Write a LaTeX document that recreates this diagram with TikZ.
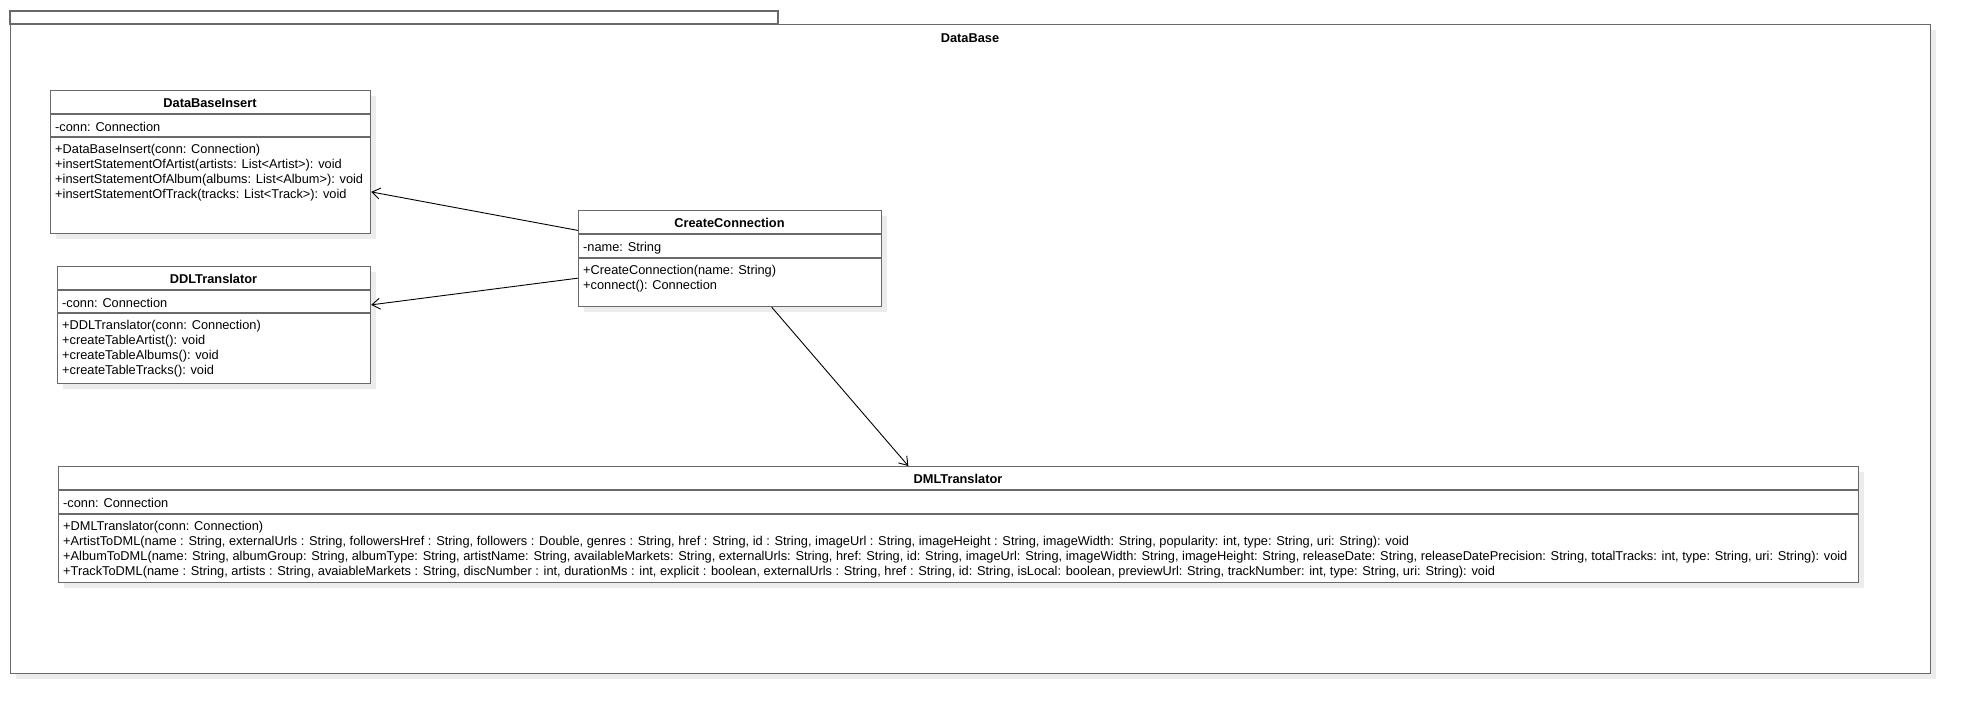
\documentclass[tikz,border=0pt]{standalone}
\usepackage{fontspec}
\setmainfont{Liberation Sans}
\usetikzlibrary{arrows.meta}
\definecolor{boxgray}{RGB}{105,105,105}
\definecolor{shadowgray}{RGB}{236,236,236}
\tikzset{
  classbox/.style={draw=boxgray, line width=1.2pt, fill=white, inner sep=0pt, anchor=north west},
  shadowbox/.style={fill=shadowgray},
  txt/.style={font=\fontsize{12.8}{15}\selectfont, inner sep=0pt, anchor=base west},
  hdr/.style={font=\fontsize{12.8}{15}\selectfont\bfseries, inner sep=0pt, anchor=base},
  divline/.style={draw=boxgray, line width=1.2pt},
  assoc/.style={draw=black, line width=0.9pt, -{Straight Barb[length=8pt,width=11pt]}},
}
\begin{document}
\begin{tikzpicture}[x=1pt,y=-1pt]
\useasboundingbox (0,0) rectangle (1970,713);
% package frame
\fill[shadowgray] (16,30) rectangle (1936,679);
\draw[divline] (10,11) rectangle (778,24);
\node[classbox, minimum width=1920pt, minimum height=649pt] (pkg) at (10,24) {};
\node[hdr] (pkgname) at (970,42.5) {DataBase};

% shadows
\fill[shadowgray] (56,96) rectangle (376,239);
\fill[shadowgray] (63,272) rectangle (376,389);
\fill[shadowgray] (584,216) rectangle (887,312);
\fill[shadowgray] (64,472) rectangle (1864,588);

% DataBaseInsert
\node[classbox, minimum width=320pt, minimum height=143pt] (dbi) at (50,90) {};
\draw[divline] (50,114) -- (370,114);
\draw[divline] (50,137) -- (370,137);
\node[hdr] (dbi-n) at (210,107.5) {DataBaseInsert};
\node[txt] (dbi-a) at (55,131) {-conn: Connection};
\node[txt] (dbi-m1) at (55,153) {+DataBaseInsert(conn: Connection)};
\node[txt] (dbi-m2) at (55,168) {+insertStatementOfArtist(artists: List<Artist>): void};
\node[txt] (dbi-m3) at (55,183) {+insertStatementOfAlbum(albums: List<Album>): void};
\node[txt] (dbi-m4) at (55,198) {+insertStatementOfTrack(tracks: List<Track>): void};

% DDLTranslator
\node[classbox, minimum width=313pt, minimum height=117pt] (ddl) at (57,266) {};
\draw[divline] (57,290) -- (370,290);
\draw[divline] (57,313) -- (370,313);
\node[hdr] (ddl-n) at (213.5,283.5) {DDLTranslator};
\node[txt] (ddl-a) at (62,307) {-conn: Connection};
\node[txt] (ddl-m1) at (62,329) {+DDLTranslator(conn: Connection)};
\node[txt] (ddl-m2) at (62,344) {+createTableArtist(): void};
\node[txt] (ddl-m3) at (62,359) {+createTableAlbums(): void};
\node[txt] (ddl-m4) at (62,374) {+createTableTracks(): void};

% CreateConnection
\node[classbox, minimum width=303pt, minimum height=96pt] (cc) at (578,210) {};
\draw[divline] (578,234) -- (881,234);
\draw[divline] (578,258) -- (881,258);
\node[hdr] (cc-n) at (729.5,227.5) {CreateConnection};
\node[txt] (cc-a) at (583,251.5) {-name: String};
\node[txt] (cc-m1) at (583,274) {+CreateConnection(name: String)};
\node[txt] (cc-m2) at (583,289) {+connect(): Connection};

% DMLTranslator
\node[classbox, minimum width=1800pt, minimum height=116pt] (dml) at (58,466) {};
\draw[divline] (58,490) -- (1858,490);
\draw[divline] (58,514) -- (1858,514);
\node[hdr] (dml-n) at (958,483.5) {DMLTranslator};
\node[txt] (dml-a) at (63,507) {-conn: Connection};
\node[txt] (dml-m1) at (63,530) {+DMLTranslator(conn: Connection)};
\node[txt] (dml-m2) at (63,545) {+ArtistToDML(name : String, externalUrls : String, followersHref : String, followers : Double, genres : String, href : String, id : String, imageUrl : String, imageHeight : String, imageWidth: String, popularity: int, type: String, uri: String): void};
\node[txt] (dml-m3) at (63,560) {+AlbumToDML(name: String, albumGroup: String, albumType: String, artistName: String, availableMarkets: String, externalUrls: String, href: String, id: String, imageUrl: String, imageWidth: String, imageHeight: String, releaseDate: String, releaseDatePrecision: String, totalTracks: int, type: String, uri: String): void};
\node[txt] (dml-m4) at (63,575) {+TrackToDML(name : String, artists : String, avaiableMarkets : String, discNumber : int, durationMs : int, explicit : boolean, externalUrls : String, href : String, id: String, isLocal: boolean, previewUrl: String, trackNumber: int, type: String, uri: String): void};

% associations
\draw[assoc] (cc) -- (dbi);
\draw[assoc] (cc) -- (ddl);
\draw[assoc] (cc) -- (dml);
\end{tikzpicture}
\end{document}
